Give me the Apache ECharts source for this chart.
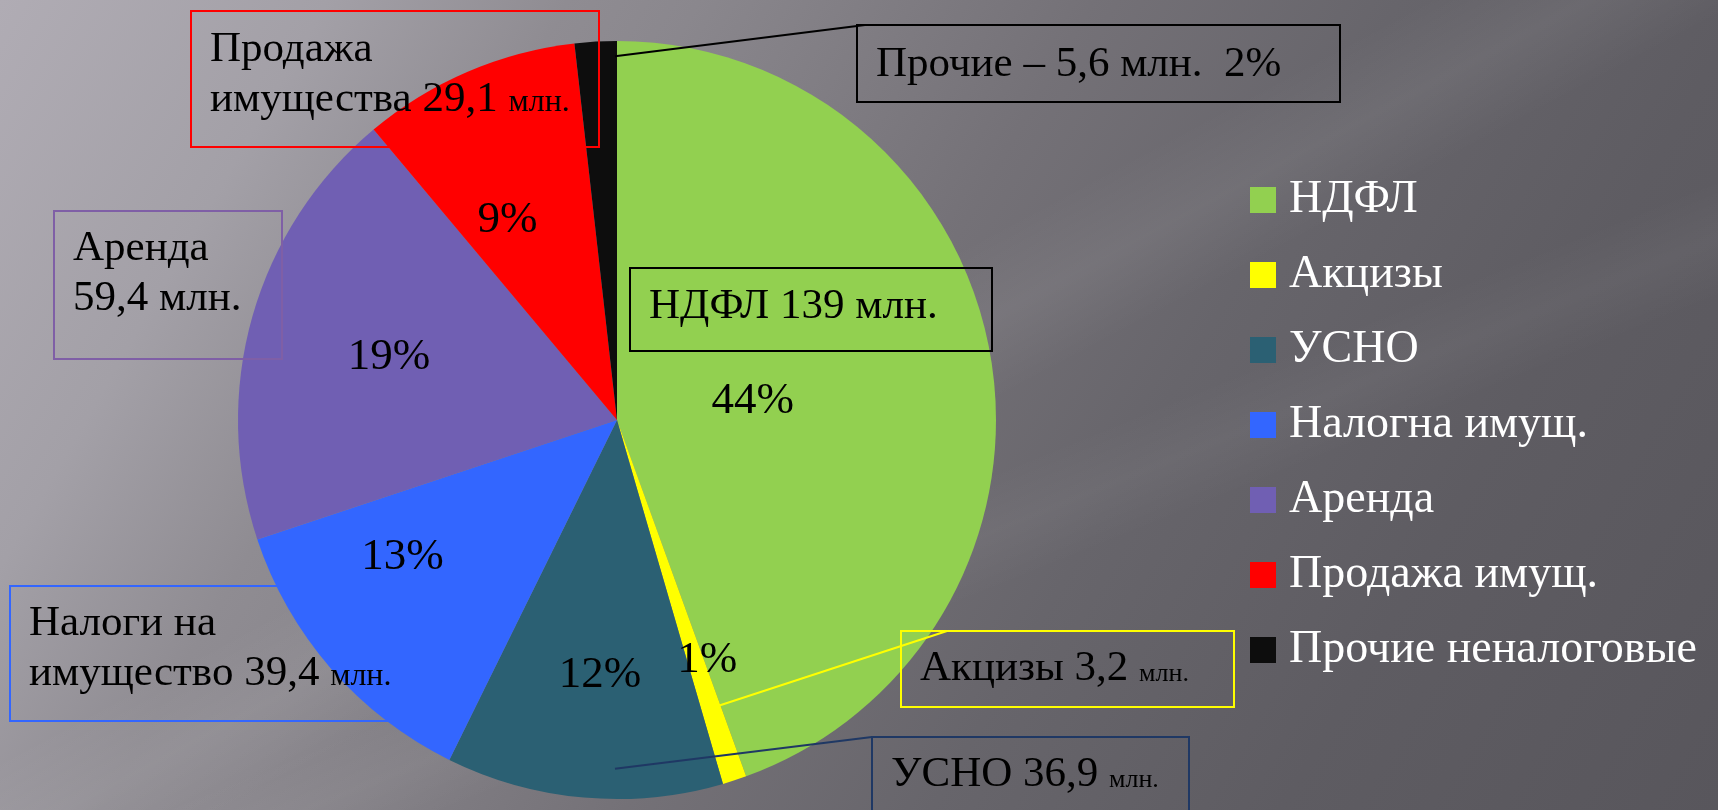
<!DOCTYPE html>
<html>
<head>
<meta charset="utf-8">
<title>Структура доходов</title>
<script src="https://cdn.jsdelivr.net/npm/echarts@6.0.0/dist/echarts.min.js"></script>
<style>
  html, body { margin: 0; padding: 0; }
  #main {
    width: 1718px;
    height: 810px;
    background:
      linear-gradient(152deg, rgba(255,255,255,0) 44%, rgba(255,255,255,0.06) 49%, rgba(255,255,255,0) 54%),
      linear-gradient(158deg, rgba(255,255,255,0) 58%, rgba(255,255,255,0.04) 62%, rgba(255,255,255,0) 66%),
      linear-gradient(120deg, #b0acb4 0%, #a3a0a7 15%, #8f8c92 26%, #8a878d 32%, #747177 50%, #67656b 64%, #5e5c62 80%, #58565c 100%);
  }
</style>
</head>
<body>
<div id="main"></div>
<script>
// данные
var names = ['НДФЛ', 'Акцизы', 'УСНО', 'Налогна имущ.', 'Аренда', 'Продажа имущ.', 'Прочие неналоговые'];
var values = [139, 3.2, 36.9, 39.4, 59.4, 29.1, 5.6];
// тексты в рамках (значение и "млн." дописываются)
var boxHead = ['НДФЛ ', 'Акцизы ', 'УСНО ', 'Налоги на\nимущество ', 'Аренда\n', 'Продажа\nимущества ', 'Прочие – '];
var unit = 'млн.';

// оформление
var colors = ['#92d050', '#ffff00', '#2b6073', '#3366ff', '#705fb3', '#ff0000', '#0d0d0d'];
var boxBorder = ['#000000', '#ffff00', '#1f3864', '#3366ff', '#7f5fa6', '#ff0000', '#000000'];
var unitSize = ['m', 't', 't', 's', 'm', 's', 'm'];
// сдвиг подписей процентов
var pctOffset = [[-113, 25], [12, 0], [5, 4], [-24, -29], [15, 6], [-10, 32], [0, 0]];
// рамки: left, top, width, height, отступ сверху
var boxPos = [
  [630, 268, 362, 83, 14],
  [901, 631, 333, 76, 13],
  [872, 737, 317, 110, 13],
  [10, 586, 432, 135, 13],
  [54, 211, 228, 148, 13],
  [191, 11, 408, 136, 14],
  [857, 25, 483, 77, 15]
];
// выноски: индекс сектора, доля угла сектора, доля радиуса, сдвиг конца по рамке, цвет
var leaders = [
  [1, 0.3, 0.8, 46, '#ffff00'],
  [2, 0.39, 0.92, 0, '#1f3864'],
  [6, 0.95, 0.96, 8, '#000000']
];

var FONT = '"Liberation Serif", "Times New Roman", serif';
var CX = 617, CY = 420, R = 379;
var PAD_L = 19, LH = 50;

var total = values.reduce(function (a, b) { return a + b; }, 0);

function anchor(i, fa, fr) {
  var before = 0;
  for (var k = 0; k < i; k++) before += values[k];
  var a = 2 * Math.PI * (before + fa * values[i]) / total;
  return [CX + fr * R * Math.sin(a), CY - fr * R * Math.cos(a)];
}

function fmt(v) { return String(v).replace('.', ','); }

var myChart = echarts.init(document.getElementById('main'));

var mainData = names.map(function (n, i) {
  return { name: n, value: values[i], itemStyle: { color: colors[i] } };
});

var pctData = names.map(function (n, i) {
  var d = { name: n, value: values[i], label: { offset: pctOffset[i] } };
  if (i === 6) d.label = { show: false };
  return d;
});

var boxData = names.map(function (n, i) {
  var b = boxPos[i];
  var lines = boxHead[i].split('\n').length;
  return {
    name: n,
    value: values[i],
    label: {
      borderColor: boxBorder[i],
      padding: [b[4], 0, b[3] - b[4] - lines * LH, PAD_L],
      width: b[2] - PAD_L
    }
  };
});

// линии-выноски от сектора к рамке
var leaderLines = leaders.map(function (ld) {
  var a = anchor(ld[0], ld[1], ld[2]);
  var b = boxPos[ld[0]];
  return {
    type: 'line',
    silent: true,
    z: 100,
    shape: { x1: a[0], y1: a[1], x2: b[0] + ld[3], y2: b[1] },
    style: { stroke: ld[4], lineWidth: 2 }
  };
});

myChart.setOption({
  animation: false,
  backgroundColor: 'transparent',
  graphic: leaderLines,
  legend: {
    orient: 'vertical',
    left: 1245,
    top: 172,
    icon: 'rect',
    itemWidth: 26,
    itemHeight: 26,
    itemGap: 29,
    selectedMode: false,
    data: names,
    textStyle: {
      color: '#ffffff',
      fontFamily: FONT,
      fontSize: 46,
      lineHeight: 46,
      padding: [0, 0, 0, 8]
    }
  },
  series: [
    {
      // сам круг
      type: 'pie',
      center: [CX, CY],
      radius: [0, R],
      startAngle: 90,
      clockwise: true,
      silent: true,
      label: { show: false },
      labelLine: { show: false },
      itemStyle: { borderWidth: 0 },
      emphasis: { disabled: true },
      data: mainData
    },
    {
      // проценты внутри секторов
      type: 'pie',
      center: [CX, CY],
      radius: [120, R],
      startAngle: 90,
      clockwise: true,
      silent: true,
      percentPrecision: 0,
      avoidLabelOverlap: false,
      itemStyle: { color: 'rgba(0,0,0,0)', borderWidth: 0 },
      emphasis: { disabled: true },
      label: {
        show: true,
        position: 'inside',
        formatter: '{d}%',
        color: '#000000',
        fontFamily: FONT,
        fontSize: 45
      },
      labelLine: { show: false },
      data: pctData
    },
    {
      // подписи в рамках
      type: 'pie',
      center: [CX, CY],
      radius: [0, R],
      startAngle: 90,
      clockwise: true,
      silent: true,
      percentPrecision: 0,
      avoidLabelOverlap: false,
      itemStyle: { color: 'rgba(0,0,0,0)', borderWidth: 0 },
      emphasis: { disabled: true },
      label: {
        show: true,
        position: 'outside',
        color: '#000000',
        fontFamily: FONT,
        fontSize: 43,
        lineHeight: LH,
        borderWidth: 2,
        formatter: function (p) {
          var i = p.dataIndex;
          var lines = boxHead[i].split('\n');
          var last = lines.pop();
          var s = lines.map(function (l) { return '{m|' + l + '}'; }).join('\n');
          if (lines.length) s += '\n';
          s += '{m|' + last + fmt(values[i]) + ' }{' + unitSize[i] + '|' + unit + '}';
          if (i === 6) s += '{m|  ' + p.percent + '%}';
          return s;
        },
        rich: {
          m: { fontFamily: FONT, fontSize: 43, lineHeight: LH, color: '#000000' },
          s: { fontFamily: FONT, fontSize: 32, lineHeight: LH, verticalAlign: 'bottom', padding: [0, 0, 6, 0], color: '#000000' },
          t: { fontFamily: FONT, fontSize: 26, lineHeight: LH, verticalAlign: 'bottom', padding: [0, 0, 7, 0], color: '#000000' }
        }
      },
      labelLine: { show: false },
      labelLayout: function (p) {
        var b = boxPos[p.dataIndex];
        return { x: b[0], y: b[1], align: 'left', verticalAlign: 'top' };
      },
      data: boxData
    }
  ]
});
</script>
</body>
</html>
